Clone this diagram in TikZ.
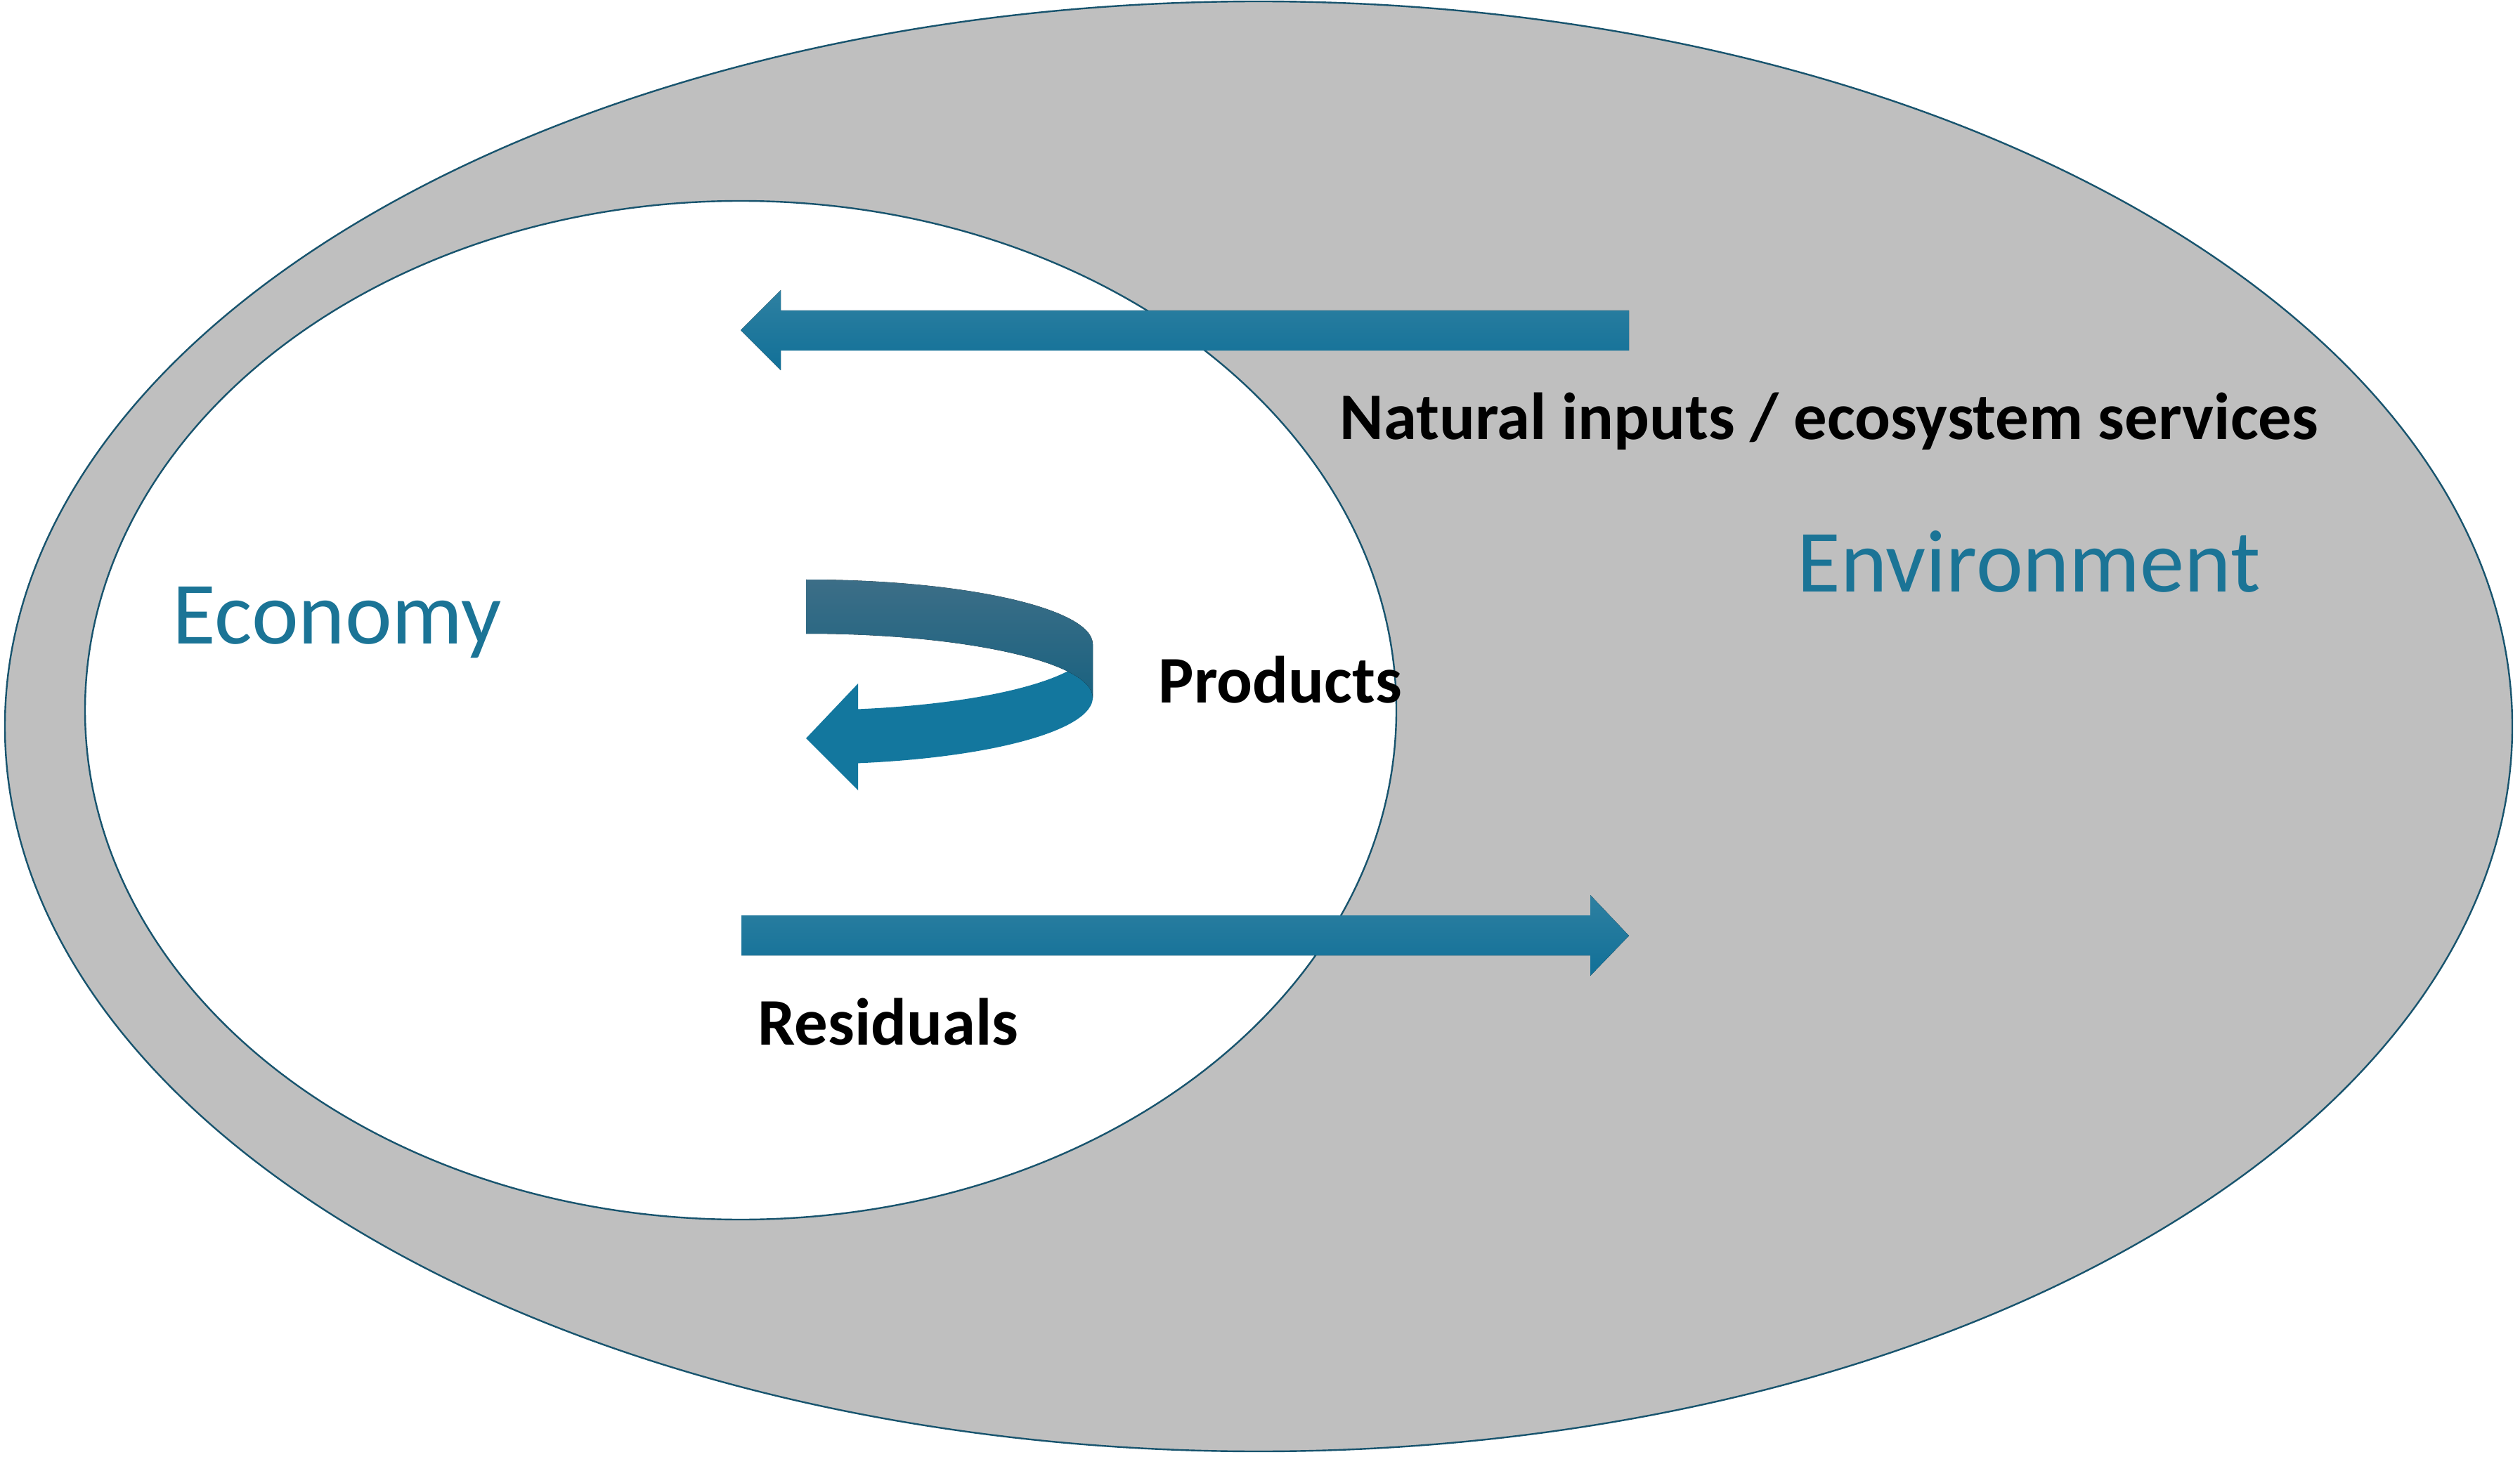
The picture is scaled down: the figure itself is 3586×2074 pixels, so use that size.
\documentclass[tikz,border=0pt]{standalone}
\usepackage{fontspec}
\setmainfont{Carlito}
\usetikzlibrary{positioning, calc}

\definecolor{envgray}{RGB}{191,191,191}
\definecolor{rim}{RGB}{24,84,110}
\definecolor{labelteal}{RGB}{27,116,150}
\definecolor{flowtop}{RGB}{46,128,161}
\definecolor{flowbot}{RGB}{17,112,152}
\definecolor{backtop}{RGB}{60,110,135}
\definecolor{backbot}{RGB}{26,98,128}
\definecolor{front}{RGB}{19,119,158}

\begin{document}
\begin{tikzpicture}[x=0.25pt, y=-0.25pt,
    flow/.style={top color=flowtop, bottom color=flowbot},
    big/.style={inner sep=0, text=labelteal, anchor=base west, font=\fontsize{31.6}{36}\selectfont},
    tag/.style={inner sep=0, anchor=base west, font=\bfseries\fontsize{23.7}{28}\selectfont}]
        \useasboundingbox (0,0) rectangle (3586,2074);

        % Environment and economy
        \draw[rim, line width=0.6pt, fill=envgray] (1791,1034) ellipse [x radius=1784, y radius=1032];
        \draw[rim, line width=0.6pt, fill=white] (1054,1011) ellipse [x radius=933, y radius=725];

        % Natural inputs flow into the economy
        \fill[flow] (2318,442) -- (1111,442) -- (1111,413) -- (1054,470) -- (1111,527) -- (1111,499) -- (2318,499) -- cycle;

        % Residuals flow out to the environment
        \fill[flow] (1055,1303) -- (2263,1303) -- (2263,1274) -- (2318,1332) -- (2263,1389) -- (2263,1360) -- (1055,1360) -- cycle;

        % Products loop: front band with head, then back band
        \fill[front] (1555,917) arc[start angle=0, end angle=79.55, x radius=408, y radius=94]
            -- (1221,973) -- (1147,1051) -- (1221,1125) -- (1221,1086.4)
            arc[start angle=79.55, end angle=0, x radius=408, y radius=95] -- cycle;
        \fill[top color=backtop, bottom color=backbot] (1147,825) arc[start angle=-90, end angle=0, x radius=408, y radius=92]
            -- (1555,993) arc[start angle=0, end angle=-90, x radius=408, y radius=91] -- cycle;

        % Labels
        \node[big] (economy) at (245,917) {Economy};
        \node[big] (environment) at (2557,843) {Environment};
        \node[tag] (inputs) at (1906,626) {Natural inputs / ecosystem services};
        \node[tag] (products) at (1648,1000) {Products};
        \node[tag] (residuals) at (1078,1487) {Residuals};
    \end{tikzpicture}
\end{document}
